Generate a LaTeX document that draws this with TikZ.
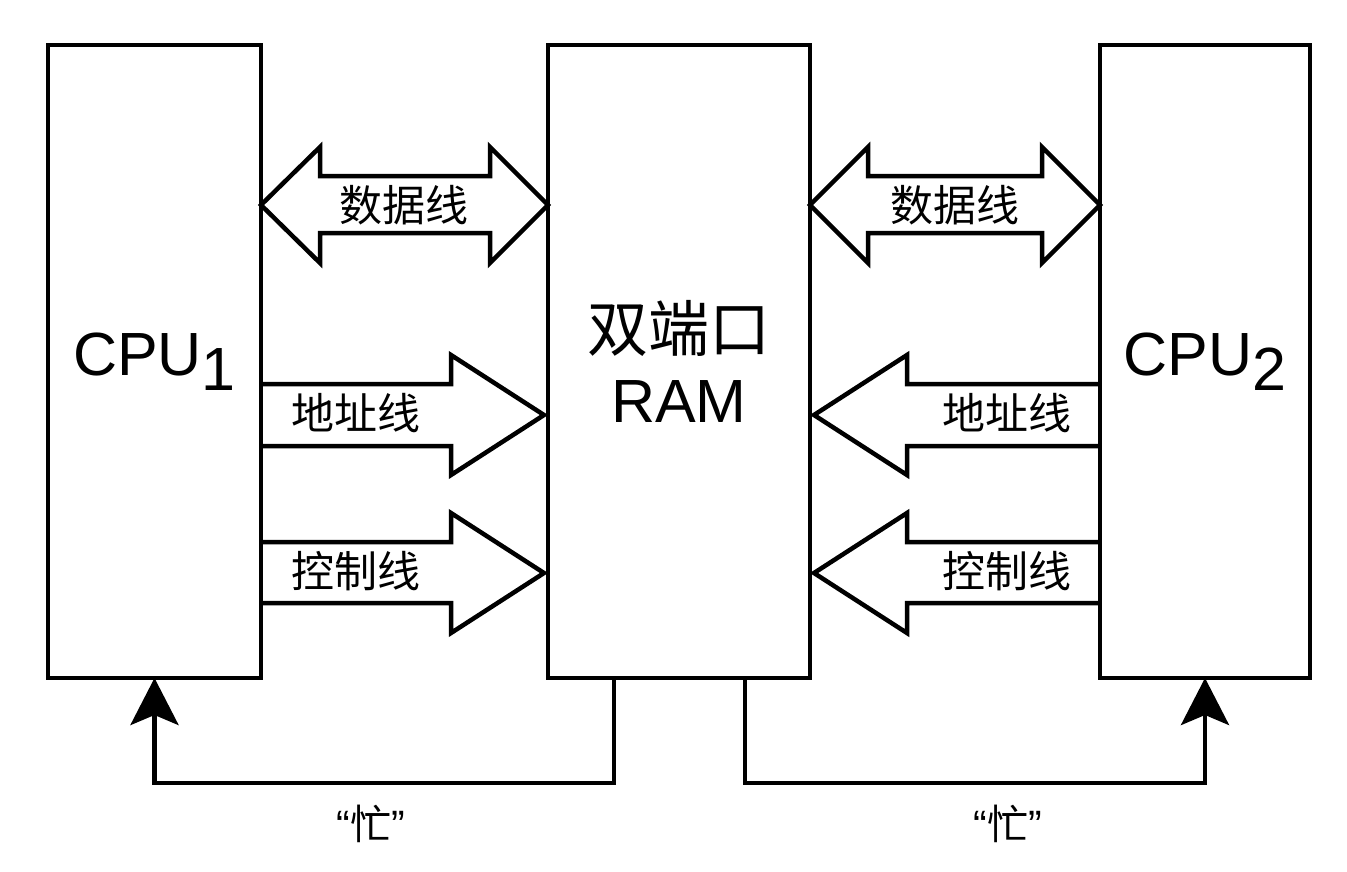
\documentclass[tikz,border=0pt]{standalone}
\usepackage{fontspec}
\setmainfont{Liberation Sans}
\newfontfamily\cjk{Noto Sans CJK SC}
\usetikzlibrary{arrows.meta}

\begin{document}
\begin{tikzpicture}[x=1pt,y=-1pt,
  box/.style={draw, line width=4.5pt, minimum width=#1, minimum height=633pt,
    inner sep=0pt, outer sep=0pt, align=center},
  bigtext/.style={font=\fontsize{61}{71}\selectfont},
  blockarrow/.style={draw, line width=4.5pt, line join=miter, line cap=butt},
  buslabel/.style={font=\cjk\fontsize{43}{48}\selectfont, inner sep=0pt},
  busy/.style={draw, line width=4.5pt,
    -{Stealth[length=47pt,width=48pt,inset=10pt]}},
  busylabel/.style={font=\fontsize{41}{46}\selectfont, inner sep=0pt}]

\useasboundingbox (0,0) rectangle (1347,871);

% processors and the shared memory
\node[box=213pt, bigtext] (cpu1) at (154.5,361.5) {CPU\raisebox{-15pt}{1}};
\node[box=262pt, bigtext] (ram)  at (679,361.5)  {{\cjk 双端口}\\RAM};
\node[box=210pt, bigtext] (cpu2) at (1205,361.5) {CPU\raisebox{-15pt}{2}};

% left side buses
\draw[blockarrow] (261,205) -- (320,147) -- (320,176) -- (490,176) -- (490,147)
  -- (548,205) -- (490,263) -- (490,233) -- (320,233) -- (320,263) -- cycle;
\draw[blockarrow] (261,384) -- (451,384) -- (451,355) -- (544,415)
  -- (451,475) -- (451,446) -- (261,446);
\draw[blockarrow] (261,542) -- (451,542) -- (451,513) -- (544,573)
  -- (451,633) -- (451,603) -- (261,603);

% right side buses
\draw[blockarrow] (810,205) -- (868,147) -- (868,176) -- (1042,176) -- (1042,147)
  -- (1100,205) -- (1042,263) -- (1042,233) -- (868,233) -- (868,263) -- cycle;
\draw[blockarrow] (1100,384) -- (907,384) -- (907,355) -- (814,415)
  -- (907,475) -- (907,446) -- (1100,446);
\draw[blockarrow] (1100,542) -- (907,542) -- (907,513) -- (814,573)
  -- (907,633) -- (907,603) -- (1100,603);

% bus labels
\node[buslabel] (data1) at (404,205)    {数据线};
\node[buslabel] (addr1) at (355.5,413)  {地址线};
\node[buslabel] (ctrl1) at (355.5,571)  {控制线};
\node[buslabel] (data2) at (954.5,205)  {数据线};
\node[buslabel] (addr2) at (1006.5,413) {地址线};
\node[buslabel] (ctrl2) at (1006.5,571) {控制线};

% busy signals back to the processors
\draw[busy] ([xshift=-65pt]ram.south) -- ++(0,105) -| (cpu1.south);
\draw[busy] ([xshift=66pt]ram.south) -- ++(0,105) -| (cpu2.south);

\node[busylabel] (busy1) at (371,824)  {“{\cjk 忙}”};
\node[busylabel] (busy2) at (1007.5,824) {“{\cjk 忙}”};

\end{tikzpicture}
\end{document}
